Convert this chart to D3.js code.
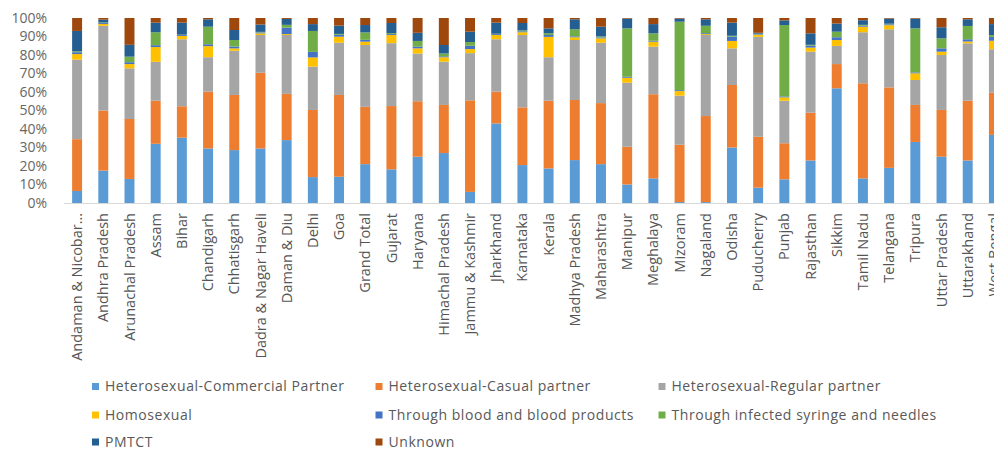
<!DOCTYPE html>
<html>
<head>
<meta charset="utf-8">
<script src="https://cdnjs.cloudflare.com/ajax/libs/d3/7.8.5/d3.min.js"></script>
<style>
  body { margin: 0; background: #fff; }
  text { font-family: "Open Sans", "Liberation Sans", Arial, sans-serif; }
</style>
</head>
<body>
<div class="canvas"></div>
<script>
// categories (states) in chart order
const states = ['Andaman & Nicobar…', 'Andhra Pradesh', 'Arunachal Pradesh', 'Assam', 'Bihar',
  'Chandigarh', 'Chhatisgarh', 'Dadra & Nagar Haveli', 'Daman & Diu', 'Delhi', 'Goa',
  'Grand Total', 'Gujarat', 'Haryana', 'Himachal Pradesh', 'Jammu & Kashmir', 'Jharkhand',
  'Karnataka', 'Kerala', 'Madhya Pradesh', 'Maharashtra', 'Manipur', 'Meghalaya', 'Mizoram',
  'Nagaland', 'Odisha', 'Puducherry', 'Punjab', 'Rajasthan', 'Sikkim', 'Tamil Nadu',
  'Telangana', 'Tripura', 'Uttar Pradesh', 'Uttarakhand', 'West Bengal'];

const routes = ['Heterosexual-Commercial Partner', 'Heterosexual-Casual partner',
  'Heterosexual-Regular partner', 'Homosexual', 'Through blood and blood products',
  'Through infected syringe and needles', 'PMTCT', 'Unknown'];

const colors = ['#5b9bd5', '#ed7d31', '#a5a5a5', '#ffc000', '#4472c4', '#70ad47', '#255e91', '#9e480e'];

// share (%) per route, one value per state
const commercial = [6.5, 17.5, 13, 32, 35.3, 29.5, 28.6, 29.5, 34, 14, 14.2, 21, 18.2, 25, 27, 6,
  43, 20.5, 18.7, 23.2, 21, 10, 13.3, 0.5, 0.5, 30, 8.3, 12.8, 23, 62, 13.3, 19, 33, 25, 23, 36.8];
const casual = [28, 32.5, 32.4, 23.3, 17, 30.7, 29.8, 40.9, 25, 36.3, 44.2, 31, 34.2, 30, 26, 49.5,
  17.2, 31.2, 36.6, 32.5, 33, 20.4, 45.5, 31, 46.5, 33.8, 27.5, 19.5, 25.8, 13.1, 51.4, 43.5, 20, 25.3, 32.3, 22.8];
const regular = [43, 45.8, 27.4, 21, 36.2, 18.6, 23.9, 20.4, 31.8, 23.4, 28.2, 33.4, 34, 25.8, 23.4, 25.5,
  28.3, 39.1, 23.5, 32.4, 32.6, 34.6, 25.7, 26.5, 43.8, 19.8, 54, 23, 33, 9.8, 27.6, 31.4, 13.5, 29.7, 31, 23.5];
const homosexual = [3, 1, 2.3, 8, 1.8, 6, 1.3, 0.9, 0.5, 5, 3.3, 1.8, 4.4, 2.8, 2.4, 2.2,
  2.3, 1.5, 11, 1.5, 2.4, 2.7, 2.7, 2.5, 0.5, 4, 1.2, 1.8, 2.2, 3.2, 3, 2.2, 3.6, 1.8, 1, 4.6];
const blood = [1, 0.5, 1, 1, 0.5, 1, 1, 0.5, 3.5, 3, 1, 1, 0.5, 1, 0.5, 1.8,
  0.5, 0.5, 1, 0.5, 0.5, 0.5, 0.5, 0.5, 0.5, 2.3, 0.3, 0.5, 1, 1.5, 0.5, 0.5, 0.5, 1.8, 1.2, 2];
const syringe = [0.5, 0.3, 3, 7, 0.2, 9.5, 3.5, 0.3, 1.5, 11.3, 0.5, 4, 0.5, 3, 1.5, 2,
  0.2, 0.5, 1, 3.8, 0.5, 26.2, 4, 37, 4, 0.5, 0.2, 38.6, 0.5, 3, 0.5, 0.3, 23.8, 5.4, 7.2, 1];
const pmtct = [11, 1.5, 6.4, 5.2, 6.5, 4, 5.4, 4, 3.2, 3.7, 4.5, 4, 5.5, 4.4, 4.6, 5.6,
  6, 4, 2.6, 5.4, 5.3, 5.3, 5, 1.7, 3.5, 7.1, 0.5, 2.5, 6.2, 4.4, 2.5, 2.8, 5.3, 6, 3.6, 6];
const unknown = [7, 0.9, 14.5, 2.5, 2.5, 0.7, 6.5, 3.5, 0.5, 3.3, 4.1, 3.8, 2.7, 8, 14.6, 7.4,
  2.5, 2.7, 5.6, 0.7, 4.7, 0.3, 3.3, 0.3, 0.7, 2.5, 8, 1.3, 8.3, 3, 1.2, 0.3, 0.3, 5, 0.7, 3.3];

const yTicks = [0, 0.1, 0.2, 0.3, 0.4, 0.5, 0.6, 0.7, 0.8, 0.9, 1];

const series = [commercial, casual, regular, homosexual, blood, syringe, pmtct, unknown];

// build rows for the stack, normalised to 100%
const rows = states.map((s, i) => {
  const row = { state: s };
  const total = d3.sum(series, arr => arr[i]);
  routes.forEach((r, k) => { row[r] = series[k][i] / total; });
  return row;
});

const svg = d3.select('.canvas')
  .append('svg')
    .attr('width', 994)
    .attr('height', 450);

const x = d3.scaleBand()
  .domain(states)
  .range([64, 1007])
  .paddingInner(0.62)
  .paddingOuter(0.31);

const y = d3.scaleLinear()
  .domain([0, 1])
  .range([203, 18]);

const stack = d3.stack().keys(routes);
const layers = stack(rows);

// bars
svg.append('g')
  .selectAll('g')
  .data(layers)
  .enter()
  .append('g')
    .attr('fill', (d, i) => colors[i])
  .selectAll('rect')
  .data(d => d)
  .enter()
  .append('rect')
    .attr('x', d => x(d.data.state))
    .attr('width', x.bandwidth())
    .attr('y', d => y(d[1]))
    .attr('height', d => y(d[0]) - y(d[1]));

// baseline
svg.append('line')
  .attr('x1', 64).attr('x2', 994)
  .attr('y1', y(0) + 0.5).attr('y2', y(0) + 0.5)
  .attr('stroke', '#d9d9d9');

// y axis
const yAxis = d3.axisLeft(y)
  .tickValues(yTicks)
  .tickFormat(d3.format('.0%'))
  .tickSize(0)
  .tickPadding(0);
const yAxisGroup = svg.append('g')
  .attr('transform', 'translate(47, 0)')
  .call(yAxis);
yAxisGroup.select('.domain').remove();
yAxisGroup.selectAll('text')
  .attr('fill', '#666')
  .style('font-size', '14px');

// x labels, rotated
const xAxis = d3.axisBottom(x).tickSize(0).tickPadding(0);
const xAxisGroup = svg.append('g')
  .attr('transform', `translate(0, ${y(0)})`)
  .call(xAxis);
xAxisGroup.select('.domain').remove();
xAxisGroup.selectAll('text')
  .attr('transform', 'translate(0, 10) rotate(-90)')
  .attr('text-anchor', 'end')
  .attr('x', 0)
  .attr('y', 0)
  .attr('dy', '0.35em')
  .attr('fill', '#555')
  .style('font-size', '14.5px');

// legend
const legendPos = [[95.5, 386.5], [379, 386.5], [662, 386.5], [95.5, 415], [379, 415], [662, 415], [95.5, 442], [379, 442]];
const legend = svg.append('g')
  .selectAll('g')
  .data(routes)
  .enter()
  .append('g')
    .attr('transform', (d, i) => `translate(${legendPos[i][0]}, ${legendPos[i][1]})`);
legend.append('rect')
  .attr('x', -3.5).attr('y', -3.5)
  .attr('width', 7).attr('height', 7)
  .attr('fill', (d, i) => colors[i]);
legend.append('text')
  .attr('x', 9.5)
  .attr('dy', '0.35em')
  .attr('fill', '#595959')
  .style('font-size', '14px')
  .style('letter-spacing', '0.55px')
  .text(d => d);
</script>
</body>
</html>
